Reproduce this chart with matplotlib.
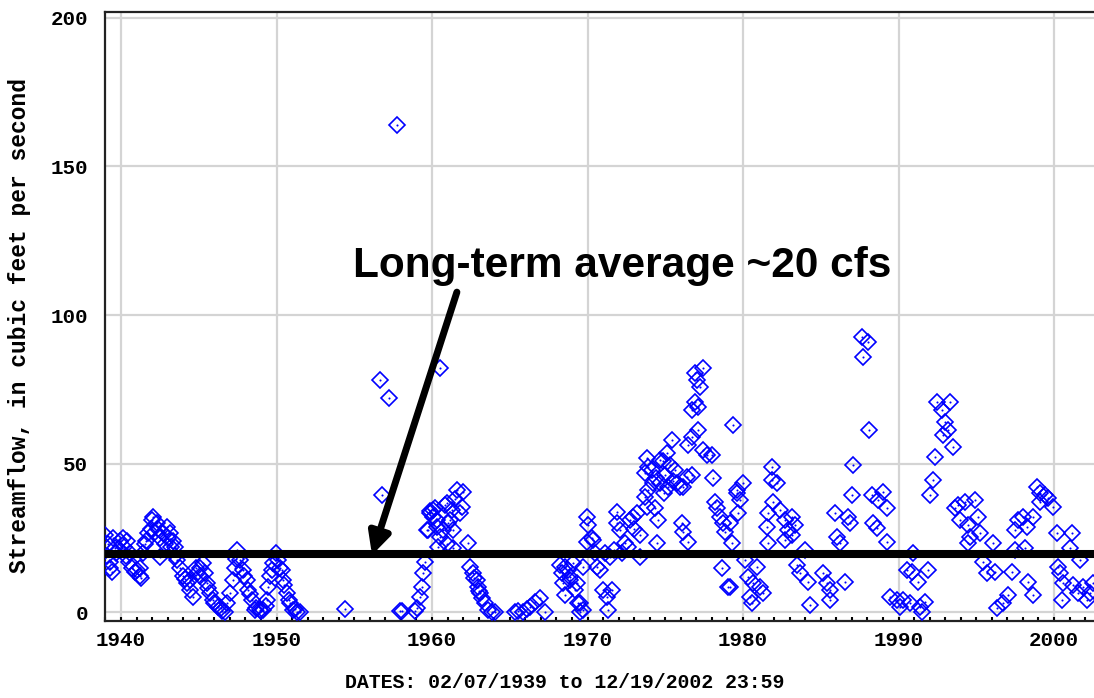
import matplotlib.pyplot as plt

# Streamflow samples (decimal year, cfs)
years_a = [1938.97, 1939.16, 1939.29, 1939.42, 1939.61, 1939.94, 1940.13, 1940.39, 1940.58, 1940.71,
           1940.90, 1941.22, 1941.22, 1941.41, 1941.54, 1941.74, 1941.99, 1942.06, 1942.32, 1942.51,
           1942.51, 1942.70, 1942.96, 1943.15, 1943.34, 1943.47, 1943.60, 1943.79, 1943.99, 1944.24,
           1944.44, 1944.63, 1944.44, 1944.89, 1945.08, 1945.27, 1945.40, 1945.53, 1945.72, 1945.92,
           1946.24, 1946.50, 1946.69, 1946.82, 1947.01, 1947.20, 1947.33, 1947.46, 1947.65, 1947.85,
           1948.10, 1948.17, 1948.42, 1948.62, 1948.94, 1949.13, 1949.39, 1949.45, 1949.58, 1949.77,
           1949.97, 1950.10, 1950.35, 1950.42, 1950.68, 1950.87, 1951.06, 1951.32, 1951.51, 1954.41,
           1939.10, 1939.30, 1939.50, 1939.70, 1940.20, 1940.30, 1940.50, 1941.00, 1941.30, 1941.60,
           1941.90, 1942.20, 1942.40, 1942.80, 1943.00, 1943.20, 1943.50, 1944.10, 1944.80, 1945.10,
           1945.60, 1946.00, 1946.40, 1947.40, 1947.90, 1948.30, 1948.70, 1949.00, 1949.30, 1949.70,
           1950.20, 1950.50, 1950.80, 1951.20]
flow_a = [26, 23, 17, 13.5, 21.5, 24, 25, 24, 20, 15,
          13.5, 12, 15, 20, 23, 26.5, 31, 32, 30, 25,
          18.5, 26.5, 28.5, 26.5, 24, 22, 17.5, 15, 12, 9.8,
          7.4, 5, 10.8, 13, 15, 16.5, 13, 9.8, 6.4, 4,
          1.7, 0.5, 0, 3, 6.4, 10.8, 15, 21, 17.5, 14,
          10.8, 7.4, 4, 0.7, 0.7, 0.7, 4, 8.4, 12, 16.5,
          20, 17.5, 14, 10.8, 6.4, 3, 0.7, 0, 0, 1,
          19, 15, 25, 20, 22, 19, 17, 14, 11.5, 24,
          28, 27, 28, 23, 25, 22, 19, 11, 15, 12,
          8, 3, 1.5, 18, 12, 6, 1.5, 0.3, 2, 14,
          15, 9, 4, 1]

years_b = [1956.66, 1956.78, 1957.23, 1957.75, 1957.94, 1958.10, 1958.91, 1959.04, 1959.23, 1959.36,
           1959.42, 1959.55, 1959.68, 1959.74, 1959.87, 1960.06, 1960.32, 1960.51, 1960.51, 1960.71,
           1960.84, 1960.96, 1960.06, 1960.32, 1960.39, 1960.96, 1961.29, 1961.16, 1961.35, 1961.61,
           1961.99, 1961.93, 1961.80, 1961.35, 1962.32, 1962.44, 1962.64, 1962.89, 1962.96, 1963.09,
           1963.22, 1963.41, 1963.60, 1963.86, 1964.05, 1959.90, 1960.20, 1961.50, 1961.00, 1962.70,
           1963.00, 1965.34, 1965.50, 1965.85, 1966.30, 1966.62, 1966.95, 1967.27, 1966.10]
flow_b = [78, 39.4, 72, 164, 0.3, 0.5, 0.5, 1.3, 5, 8.4,
          13, 16.8, 27.6, 27.6, 33.3, 34.3, 31, 25.3, 82, 27.6,
          36, 23, 32, 28.6, 22, 36.7, 34.3, 31, 27.6, 41,
          40.4, 35.4, 33.3, 21.5, 23.2, 15.2, 13.1, 10.8, 8.4, 6.4,
          4.7, 3, 0.7, 0, 0, 34, 35, 38, 30, 11.5,
          7, 0, 0.5, 0, 1.7, 3.4, 4.7, 0, 1]

years_c = [1968.23, 1968.36, 1968.42, 1968.55, 1968.75, 1968.87, 1969.07, 1969.32, 1969.52, 1969.71,
           1969.71, 1969.97, 1970.03, 1969.97, 1970.35, 1970.61, 1968.55, 1968.87, 1969.20, 1969.39,
           1969.52, 1970.29, 1970.48, 1970.80, 1971.00, 1971.25, 1971.32, 1971.58, 1971.13, 1971.45,
           1971.90, 1971.90, 1972.09, 1972.41, 1972.60, 1972.73, 1972.93, 1973.18, 1973.38, 1973.38,
           1973.70, 1973.89, 1973.83, 1974.21, 1974.34, 1974.53, 1974.47, 1974.66, 1973.83, 1973.89,
           1973.70, 1974.15, 1974.66, 1974.86, 1975.11, 1975.31, 1975.63, 1975.76, 1975.95, 1976.14,
           1976.40, 1976.72, 1975.43, 1976.08, 1976.14, 1976.46, 1976.46, 1976.72, 1977.11, 1977.43,
           1977.68, 1978.01, 1976.91, 1977.11, 1976.72, 1977.04, 1977.23, 1976.91, 1977.43, 1978.07,
           1978.20, 1978.33, 1978.52, 1978.71, 1978.84, 1979.36, 1979.29, 1978.65, 1979.04, 1979.61,
           1979.68, 1974.40, 1975.00, 1975.50, 1974.90, 1975.20, 1973.00, 1972.20, 1971.70]
flow_c = [15.8, 13, 9.8, 5.7, 14.1, 10.8, 16.5, 9.8, 3, 0.7,
          15.2, 32, 29.3, 23.6, 24.2, 15.2, 15.2, 11.8, 7.4, 3,
          0, 25, 19.9, 14.1, 7.4, 5, 0.7, 7.4, 19.9, 18.5,
          30, 33.7, 27.6, 23.2, 21.9, 31, 32, 33.3, 25.9, 18.5,
          38.7, 41, 35.4, 43.4, 35, 31, 23.2, 43.4, 51.8, 48.8,
          46.8, 47.8, 51.2, 51, 53.5, 49.5, 47.8, 43.4, 42, 42,
          45.5, 46, 57.9, 30, 27, 23.6, 56.2, 58.9, 61.3, 54.5,
          52.9, 53, 70.7, 69, 68, 78, 75.8, 80.5, 82.2, 45.1,
          37, 35, 32, 30, 27, 63, 23.2, 14.8, 8.4, 41,
          33.3, 45, 46, 44, 40, 42, 28, 20, 21]

years_d = [1980.00, 1979.61, 1979.81, 1979.16, 1979.16, 1980.13, 1980.32, 1980.64, 1980.58, 1980.45,
           1980.90, 1981.09, 1981.29, 1981.86, 1981.86, 1982.19, 1981.93, 1981.61, 1981.54, 1982.38,
           1982.70, 1983.15, 1983.34, 1982.89, 1983.15, 1982.70, 1981.61, 1983.47, 1983.67, 1983.99,
           1984.18, 1984.31, 1985.14, 1985.40, 1985.59, 1985.59, 1986.56, 1985.92, 1986.05, 1986.24,
           1986.75, 1986.88, 1987.01, 1987.07, 1987.65, 1988.04, 1987.72, 1988.10, 1988.30, 1988.68,
           1989.00, 1989.26, 1988.36, 1988.62, 1989.26, 1989.45, 1989.90, 1990.10, 1990.29, 1990.55]
flow_d = [43.4, 40, 37.7, 30, 8.5, 17.5, 11.8, 9.8, 3, 5,
          15.2, 8.4, 6.4, 48.8, 44.4, 43.4, 37, 33.3, 28.6, 34.3,
          31, 32, 29.3, 27.6, 25.9, 24.2, 23.2, 15.8, 13.1, 20.9,
          10.1, 2.4, 13.1, 9.8, 7.4, 4, 10.1, 33.3, 25.3, 23.2,
          32, 30, 39.4, 49.5, 92.6, 91, 85.9, 61.3, 39.4, 37.7,
          40.4, 35, 30, 28.3, 23.6, 5, 4, 1.7, 4, 14.1]

years_e = [1990.74, 1991.38, 1991.70, 1991.51, 1990.93, 1990.87, 1991.25, 1991.90, 1992.03, 1992.22,
           1992.35, 1992.48, 1992.80, 1993.31, 1992.99, 1992.86, 1993.18, 1993.50, 1993.63, 1993.83,
           1994.28, 1994.92, 1993.95, 1994.47, 1995.11, 1994.60, 1995.24, 1994.47, 1996.08, 1995.43,
           1995.69, 1996.21, 1996.33, 1996.72, 1997.04, 1997.30, 1997.49, 1997.49, 1997.68, 1998.01,
           1998.26, 1998.65, 1998.14, 1998.33, 1998.65, 1998.91, 1999.10, 1999.42, 1999.61, 1999.94,
           1999.10, 2000.19, 2000.26, 2000.39, 2000.58, 2000.51, 2001.03, 2001.16, 2001.22, 2001.67,
           2001.54, 2001.86, 2002.12, 2002.32, 2002.51]
flow_e = [3, 1.7, 3.4, 0, 19.9, 13.5, 10.1, 14.1, 39.4, 44.4,
          52.2, 70.7, 68, 70.7, 64, 59.6, 61.3, 55.6, 35, 36,
          37, 37.7, 31, 29.3, 32, 25.3, 26.6, 23.2, 23.2, 16.8,
          13.1, 13.5, 1.3, 3, 5.7, 13.5, 20.9, 27.6, 31, 32,
          28.6, 32, 21.5, 10.1, 5.7, 42, 40, 39.4, 38.4, 35.4,
          37, 26.6, 15.2, 13.1, 9.8, 4, 21.5, 26.6, 9.1, 17.5,
          6.4, 8.4, 4, 6.4, 9.8]

years = years_a + years_b + years_c + years_d + years_e
flow = flow_a + flow_b + flow_c + flow_d + flow_e

average_flow = 19.5
note = 'Long-term average ~20 cfs'
x_ticks = [1940, 1950, 1960, 1970, 1980, 1990, 2000]
y_ticks = [0, 50, 100, 150, 200]

fig = plt.figure(figsize=(10.94, 6.98), dpi=100)
ax = fig.add_axes([105 / 1094, 77 / 698, 991 / 1094, 609 / 698])

blue = '#0000ff'
ax.plot(years, flow, linestyle='none', marker='D', ms=7.8, mfc='none',
        mec=blue, mew=1.2, zorder=3)
ax.plot(years, flow, linestyle='none', marker='o', ms=1.5, mfc=blue,
        mec=blue, mew=0, zorder=3)

ax.axhline(average_flow, color='black', lw=5.8, zorder=4)

ax.set_xlim(1938.97, 2002.70)
ax.set_ylim(-3.0, 202.0)
ax.set_xticks(x_ticks)
ax.set_xticks(range(1939, 2003), minor=True)
ax.set_yticks(y_ticks)
ax.grid(True, color='#d4d4d4', lw=1.6, zorder=0)
ax.set_axisbelow(True)

ax.tick_params(axis='x', which='both', direction='in', length=3, width=1.5,
               color='black', pad=7)
ax.tick_params(axis='y', length=0, pad=12)
for lab in ax.get_xticklabels() + ax.get_yticklabels():
    lab.set_fontfamily('Liberation Mono')
    lab.set_fontweight('bold')
    lab.set_fontsize(15)

for side in ['left', 'bottom', 'top']:
    ax.spines[side].set_color('#222222')
    ax.spines[side].set_linewidth(1.6)
ax.spines['right'].set_visible(False)

ax.set_ylabel('Streamflow, in cubic feet per second', family='Liberation Mono',
              fontsize=16.5, fontweight='bold')
ax.yaxis.set_label_coords(-0.075, 0.486)
fig.text(565 / 1094, 15 / 698, 'DATES: 02/07/1939 to 12/19/2002 23:59',
         family='Liberation Mono', fontsize=14.3, fontweight='bold',
         ha='center', va='center')

ax.text(1972.2, 116.5, note, family='Liberation Sans', fontweight='bold',
        fontsize=30.5, ha='center', va='center', zorder=5)
ax.annotate('', xy=(1956.14, 19.2), xytext=(1961.6, 107.7),
            arrowprops=dict(arrowstyle='-|>', color='black', lw=5,
                            mutation_scale=32, shrinkA=0, shrinkB=0),
            zorder=5)

fig.savefig('out.png', dpi=100)
